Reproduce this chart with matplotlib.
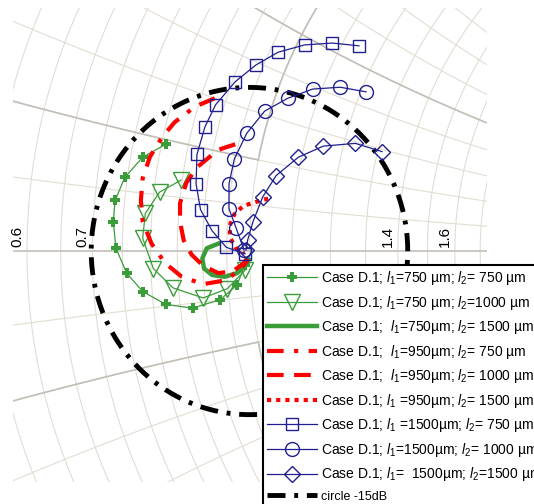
import numpy as np
import matplotlib.pyplot as plt

plt.rcParams['font.family'] = ['Liberation Sans', 'DejaVu Sans']
plt.rcParams['mathtext.fontset'] = 'custom'
plt.rcParams['mathtext.rm'] = 'Liberation Sans'
plt.rcParams['mathtext.it'] = 'Liberation Sans:italic'

g1_re = [-0.094, -0.120, -0.140, -0.151, -0.153, -0.150, -0.138, -0.120, -0.094, -0.064, -0.033, -0.014, -0.005]
g1_im = [0.116, 0.102, 0.080, 0.055, 0.032, 0.003, -0.024, -0.044, -0.058, -0.062, -0.053, -0.037, -0.015]

g2_re = [-0.077, -0.101, -0.117, -0.120, -0.108, -0.086, -0.052, -0.025, -0.005]
g2_im = [0.077, 0.064, 0.041, 0.014, -0.019, -0.040, -0.051, -0.041, -0.021]

g3_re = [-0.035, -0.048, -0.053, -0.051, -0.042, -0.028, -0.014, -0.005, -0.001]
g3_im = [0.008, 0.003, -0.008, -0.019, -0.026, -0.028, -0.024, -0.016, -0.009]

g4_re = [-0.039, -0.061, -0.084, -0.098, -0.112, -0.120, -0.122, -0.120, -0.110, -0.095, -0.076, -0.052, -0.028, -0.011, -0.002]
g4_im = [0.166, 0.157, 0.140, 0.124, 0.102, 0.079, 0.055, 0.032, 0.008, -0.013, -0.028, -0.036, -0.032, -0.021, -0.010]

g5_re = [-0.016, -0.035, -0.059, -0.071, -0.078, -0.078, -0.074, -0.065, -0.052, -0.035, -0.019, -0.007, -0.002]
g5_im = [0.116, 0.110, 0.091, 0.074, 0.052, 0.032, 0.012, -0.004, -0.016, -0.024, -0.022, -0.014, -0.007]

g6_re = [0.021, 0.006, -0.007, -0.017, -0.022, -0.022, -0.016, -0.006]
g6_im = [0.057, 0.053, 0.049, 0.040, 0.028, 0.015, 0.004, -0.003]

g7_re = [-0.005, -0.026, -0.042, -0.055, -0.060, -0.059, -0.050, -0.038, -0.016, 0.007, 0.032, 0.062, 0.093, 0.123]
g7_im = [-0.003, 0.004, 0.022, 0.045, 0.073, 0.105, 0.135, 0.159, 0.184, 0.202, 0.216, 0.224, 0.226, 0.223]

g8_re = [-0.006, -0.015, -0.023, -0.023, -0.017, -0.003, 0.017, 0.043, 0.071, 0.102, 0.131]
g8_im = [0.001, 0.025, 0.046, 0.073, 0.100, 0.128, 0.152, 0.166, 0.176, 0.178, 0.173]

g9_re = [-0.004, -0.002, 0.004, 0.015, 0.030, 0.055, 0.083, 0.119, 0.149]
g9_im = [0.001, 0.012, 0.032, 0.059, 0.082, 0.102, 0.114, 0.117, 0.108]

circle_db = -15
labels = [
    'Case D.1; $l_1$=750 µm; $l_2$= 750 µm',
    'Case D.1; $l_1$=750 µm; $l_2$=1000 µm',
    'Case D.1;  $l_1$=750µm; $l_2$= 1500 µm',
    'Case D.1;  $l_1$=950µm; $l_2$= 750 µm',
    'Case D.1;  $l_1$=950µm; $l_2$= 1000 µm',
    'Case D.1; $l_1$ =950µm; $l_2$= 1500 µm',
    'Case D.1; $l_1$ =1500µm; $l_2$= 750 µm',
    'Case D.1; $l_1$=1500µm; $l_2$= 1000 µm',
    'Case D.1; $l_1$=  1500µm; $l_2$=1500 µm',
    'circle -15dB',
]
r_labels = [0.6, 0.7, 1.4, 1.6]

fig = plt.figure(figsize=(5.34, 5.04), dpi=100)
ax = fig.add_axes([13 / 534, 22 / 504, 474 / 534, 474 / 504])
ax.set_xlim(-0.2657, 0.2669)
ax.set_ylim(-0.2510, 0.2641)
ax.axis('off')


def gam(z):
    return (z - 1) / (z + 1)


minor_c = '#e2ddd3'
major_c = '#c2beb8'
xs = np.linspace(-6, 6, 3000)
rs = np.linspace(0.2, 6, 3000)
r_grid = np.r_[np.arange(0.5, 0.999, 0.05), np.arange(1.0, 2.05, 0.1)]
x_grid = np.arange(0.1, 1.05, 0.1)
for r in r_grid:
    g = gam(r + 1j * xs)
    ax.plot(g.real, g.imag, color=minor_c, lw=0.8, zorder=1)
for xv in x_grid:
    for s in (1, -1):
        g = gam(rs + 1j * s * xv)
        ax.plot(g.real, g.imag, color=minor_c, lw=0.8, zorder=1)

# heavier main grid
for s in (1, -1):
    top = np.linspace(0.2, 6, 1500)
    g = gam(1 + 1j * s * top)
    ax.plot(g.real, g.imag, color=major_c, lw=1.2, zorder=1)
    g = gam(np.linspace(0.2, 1, 800) + 1j * s * 0.2)
    ax.plot(g.real, g.imag, color=major_c, lw=1.2, zorder=1)
    g = gam(rs + 1j * s * 0.5)
    ax.plot(g.real, g.imag, color=major_c, lw=1.2, zorder=1)
ax.axhline(0, color=major_c, lw=1.2, zorder=1)

for r in r_labels:
    gx = (r - 1) / (r + 1)
    ax.text(gx - 0.003, 0.004, f'{r:g}', rotation=90, ha='right', va='bottom',
            fontsize=11, zorder=2)

green = '#3a9d3a'
red = '#ff0000'
navy = '#1f1f8f'

h = []
h += ax.plot(g1_re, g1_im, color=green, lw=0.9, marker='P', ms=7, mew=0, zorder=4)
h += ax.plot(g2_re, g2_im, color=green, lw=0.9, marker='v', ms=11, mfc='none', mew=1, zorder=4)
h += ax.plot(g3_re, g3_im, color=green, lw=3.2, zorder=4)
h += ax.plot(g4_re, g4_im, color=red, lw=3, dashes=(4, 2.5, 1, 2.5), zorder=4)
h += ax.plot(g5_re, g5_im, color=red, lw=3, dashes=(4, 2.5), zorder=4)
h += ax.plot(g6_re, g6_im, color=red, lw=3, dashes=(1, 1.2), zorder=4)
h += ax.plot(g7_re, g7_im, color=navy, lw=0.9, marker='s', ms=9, mfc='none', mew=1, zorder=4)
h += ax.plot(g8_re, g8_im, color=navy, lw=0.9, marker='o', ms=10, mfc='none', mew=1, zorder=4)
h += ax.plot(g9_re, g9_im, color=navy, lw=0.9, marker='D', ms=8.5, mfc='none', mew=1, zorder=4)

rad = 10 ** (circle_db / 20)
t = np.linspace(0, 2 * np.pi, 600)
h += ax.plot(rad * np.cos(t), rad * np.sin(t), color='black', lw=3.5,
             dashes=(3.7, 1.8, 0.8, 1.8), zorder=3)

leg = ax.legend(h, labels, loc='upper left', bbox_to_anchor=(263 / 534, 1 - 265 / 504),
                bbox_transform=fig.transFigure, fontsize=10, frameon=True, fancybox=False,
                framealpha=1, edgecolor='black', borderaxespad=0, borderpad=0.3,
                handlelength=3.6, handletextpad=0.3, labelspacing=0.47)
leg.get_frame().set_linewidth(1.5)
leg.set_zorder(10)
leg.get_texts()[-1].set_fontsize(9)

fig.savefig('out.png', dpi=100)
